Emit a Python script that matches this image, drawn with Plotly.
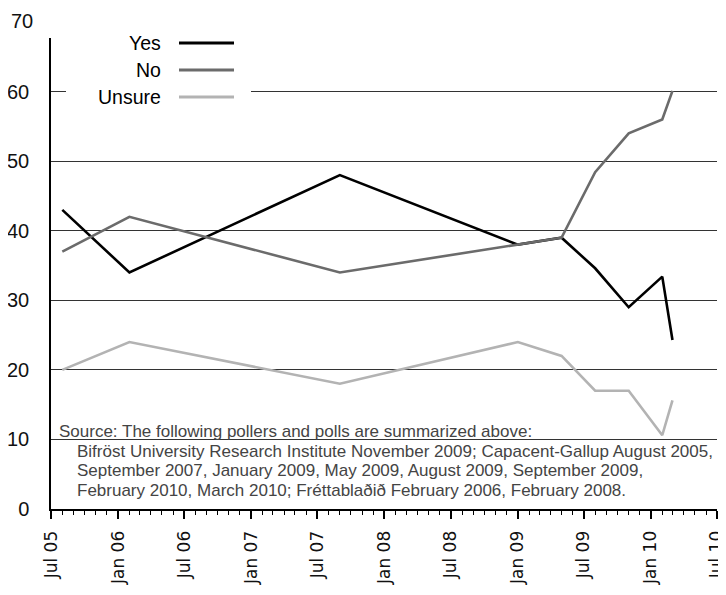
import plotly.graph_objects as go

# ---- data ----
dates = ["2005-08-01", "2006-02-01", "2007-09-01", "2009-01-01", "2009-05-01",
         "2009-08-01", "2009-11-01", "2010-02-01", "2010-03-01"]
yes = [43, 34, 48, 38, 39, 34.6, 29, 33.4, 24.3]
no = [37, 42, 34, 38, 39, 48.4, 54, 56, 60.1]
unsure = [20, 24, 18, 24, 22, 17, 17, 10.6, 15.6]

series_names = ["Yes", "No", "Unsure"]
series_colors = ["#000000", "#6b6b6b", "#b3b3b3"]

source_lines = [
    "Source: The following pollers and polls are summarized above:",
    "Bifröst University Research Institute November 2009; Capacent-Gallup August 2005,",
    "September 2007, January 2009, May 2009, August 2009, September 2009,",
    "February 2010, March 2010; Fréttablaðið February 2006, February 2008.",
]

fig = go.Figure()
for name, vals, col in zip(series_names, [yes, no, unsure], series_colors):
    fig.add_trace(go.Scatter(x=dates, y=vals, mode="lines", name=name,
                             line=dict(color=col, width=2.6), showlegend=False))

OFF = 8  # page body margin
W, H = 726 - OFF, 595 - 2 * OFF
L, T = 51 - OFF, 38 - OFF
R = W - (717 - OFF)
B = H - (509 - OFF)
pw, ph = W - L - R, H - T - B

def px(x):
    return (x - OFF - L) / pw

def py(y):
    return (H - B - (y - OFF)) / ph

shapes = [
    dict(type="rect", xref="paper", yref="paper", x0=px(66), x1=px(251),
         y0=py(108), y1=py(30), fillcolor="white", line=dict(width=0), layer="above"),
]
annotations = []
rows = [43, 70, 97]
for name, col, ry in zip(series_names, series_colors, rows):
    shapes.append(dict(type="line", xref="paper", yref="paper", x0=px(179), x1=px(234),
                       y0=py(ry), y1=py(ry), line=dict(color=col, width=3), layer="above"))
    annotations.append(dict(text=name, xref="paper", yref="paper", x=px(163), y=py(ry),
                            xanchor="right", yanchor="middle", showarrow=False,
                            font=dict(family="Liberation Sans, Arial", size=19.5, color="#000")))

# 70 label above the axis range
annotations.append(dict(text="70", xref="paper", yref="paper", x=0, y=py(21), xanchor="right",
                        xshift=-16, yanchor="middle", showarrow=False,
                        font=dict(family="Liberation Sans, Arial", size=20, color="#111")))

src_pos = [(57, 431), (75, 451), (75, 470.5), (75, 490)]
for txt, (sx, sy) in zip(source_lines, src_pos):
    annotations.append(dict(text=txt, xref="paper", yref="paper", x=px(sx), y=py(sy),
                            xanchor="left", yanchor="middle", showarrow=False,
                            font=dict(family="Liberation Sans, Arial", size=17, color="#444")))

fig.update_layout(
    width=W, height=H,
    margin=dict(l=L, r=R, t=T, b=B, pad=0, autoexpand=False),
    paper_bgcolor="white", plot_bgcolor="white",
    shapes=shapes, annotations=annotations,
    xaxis=dict(
        type="date", range=["2005-07-01", "2010-07-01 02:00"], automargin=False,
        tick0="2005-07-01", dtick="M6", tickformat="%b %y", tickangle=-90,
        ticks="outside", ticklen=8, tickwidth=1.5, tickcolor="#000",
        showline=True, linecolor="#000", linewidth=2, showgrid=False,
        ticklabelstandoff=5, ticklabeloverflow="allow",
        tickfont=dict(family="DejaVu Sans", size=17, color="#111"),
        minor=dict(ticks="outside", ticklen=4, tickwidth=1, tickcolor="#000",
                   dtick="M1", tick0="2005-07-01", showgrid=False),
    ),
    yaxis=dict(
        range=[0, 67.7], dtick=10, tick0=0, automargin=False,
        showline=True, linecolor="#000", linewidth=1.5,
        showgrid=True, gridcolor="#333", gridwidth=1, zeroline=False,
        ticks="", ticklabelstandoff=16,
        tickfont=dict(family="Liberation Sans, Arial", size=20, color="#111"),
    ),
)

fig.write_html("out.html")
